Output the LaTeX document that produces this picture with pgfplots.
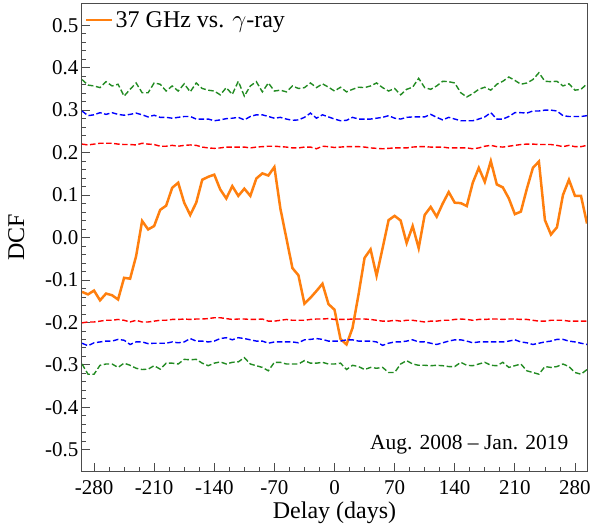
\documentclass[border=0pt]{standalone}
\usepackage{fontspec}
\setmainfont{Liberation Serif}
\usepackage{pgfplots}
\usepackage{pgfplotstable}
\pgfplotsset{compat=1.18}
\definecolor{dcforange}{RGB}{255,127,14}
\definecolor{siggreen}{RGB}{34,139,34}
\definecolor{sigblue}{RGB}{0,0,255}
\definecolor{sigred}{RGB}{255,0,0}
\pgfplotstableread{
d dcf gu bu ru rl bl gl
-294 -0.128 0.372 0.298 0.220 -0.201 -0.249 -0.298
-287 -0.134 0.359 0.287 0.218 -0.199 -0.255 -0.322
-280 -0.125 0.357 0.289 0.220 -0.199 -0.248 -0.322
-273 -0.148 0.353 0.294 0.222 -0.197 -0.246 -0.301
-266 -0.132 0.367 0.290 0.222 -0.195 -0.244 -0.298
-259 -0.136 0.357 0.294 0.222 -0.195 -0.244 -0.298
-252 -0.146 0.361 0.290 0.220 -0.193 -0.240 -0.306
-245 -0.095 0.333 0.288 0.219 -0.195 -0.242 -0.296
-238 -0.097 0.349 0.290 0.219 -0.199 -0.252 -0.301
-231 -0.044 0.364 0.293 0.218 -0.195 -0.246 -0.308
-224 0.039 0.341 0.289 0.222 -0.199 -0.246 -0.311
-217 0.019 0.341 0.284 0.220 -0.199 -0.250 -0.310
-210 0.027 0.364 0.288 0.219 -0.197 -0.249 -0.302
-203 0.065 0.361 0.283 0.215 -0.195 -0.249 -0.310
-196 0.075 0.345 0.283 0.215 -0.195 -0.249 -0.296
-189 0.117 0.357 0.281 0.217 -0.193 -0.246 -0.296
-182 0.129 0.345 0.283 0.215 -0.193 -0.248 -0.298
-175 0.082 0.362 0.285 0.217 -0.192 -0.246 -0.287
-168 0.053 0.343 0.285 0.218 -0.193 -0.238 -0.288
-161 0.082 0.364 0.279 0.217 -0.192 -0.244 -0.287
-154 0.136 0.351 0.279 0.213 -0.192 -0.244 -0.296
-147 0.143 0.347 0.279 0.211 -0.191 -0.246 -0.302
-140 0.148 0.345 0.275 0.210 -0.189 -0.244 -0.296
-133 0.113 0.336 0.277 0.211 -0.189 -0.238 -0.293
-126 0.092 0.353 0.280 0.213 -0.191 -0.236 -0.298
-119 0.121 0.337 0.281 0.213 -0.193 -0.241 -0.294
-112 0.098 0.368 0.283 0.213 -0.192 -0.236 -0.293
-105 0.115 0.333 0.277 0.213 -0.192 -0.238 -0.283
-98 0.098 0.357 0.285 0.211 -0.193 -0.241 -0.298
-91 0.139 0.367 0.289 0.213 -0.193 -0.244 -0.302
-84 0.151 0.343 0.289 0.214 -0.192 -0.244 -0.306
-77 0.146 0.364 0.285 0.215 -0.197 -0.249 -0.314
-70 0.166 0.345 0.281 0.215 -0.197 -0.246 -0.294
-63 0.068 0.347 0.283 0.214 -0.195 -0.246 -0.294
-56 -0.002 0.343 0.279 0.213 -0.193 -0.246 -0.298
-49 -0.072 0.357 0.276 0.211 -0.195 -0.246 -0.298
-42 -0.089 0.351 0.277 0.211 -0.195 -0.248 -0.298
-35 -0.156 0.353 0.283 0.213 -0.195 -0.241 -0.290
-28 -0.142 0.364 0.293 0.213 -0.193 -0.240 -0.296
-21 -0.126 0.353 0.281 0.209 -0.192 -0.238 -0.296
-14 -0.109 0.362 0.289 0.215 -0.192 -0.240 -0.294
-7 -0.157 0.354 0.284 0.214 -0.191 -0.244 -0.298
0 -0.170 0.345 0.279 0.212 -0.193 -0.244 -0.298
7 -0.239 0.354 0.275 0.213 -0.193 -0.244 -0.296
14 -0.252 0.343 0.276 0.214 -0.193 -0.241 -0.311
21 -0.213 0.349 0.283 0.214 -0.192 -0.241 -0.301
28 -0.134 0.354 0.279 0.214 -0.192 -0.244 -0.304
35 -0.048 0.353 0.279 0.213 -0.192 -0.244 -0.311
42 -0.028 0.357 0.279 0.211 -0.193 -0.244 -0.306
49 -0.090 0.364 0.281 0.210 -0.195 -0.246 -0.308
56 -0.025 0.353 0.283 0.209 -0.197 -0.254 -0.306
63 0.041 0.345 0.287 0.210 -0.197 -0.249 -0.318
70 0.051 0.351 0.281 0.211 -0.195 -0.246 -0.318
77 0.040 0.336 0.279 0.211 -0.197 -0.246 -0.298
84 -0.013 0.349 0.283 0.211 -0.195 -0.244 -0.290
91 0.027 0.354 0.284 0.213 -0.195 -0.241 -0.298
98 -0.025 0.375 0.284 0.214 -0.197 -0.246 -0.301
105 0.053 0.353 0.284 0.214 -0.199 -0.246 -0.301
112 0.072 0.349 0.290 0.213 -0.197 -0.249 -0.302
119 0.049 0.357 0.283 0.213 -0.197 -0.252 -0.301
126 0.080 0.368 0.277 0.213 -0.195 -0.248 -0.302
133 0.107 0.367 0.283 0.211 -0.195 -0.244 -0.304
140 0.082 0.364 0.279 0.211 -0.193 -0.241 -0.304
147 0.081 0.341 0.275 0.211 -0.192 -0.241 -0.294
154 0.074 0.331 0.275 0.211 -0.193 -0.244 -0.301
161 0.129 0.339 0.275 0.209 -0.195 -0.248 -0.302
168 0.164 0.349 0.279 0.211 -0.193 -0.246 -0.298
175 0.131 0.354 0.284 0.215 -0.193 -0.246 -0.294
182 0.180 0.347 0.294 0.217 -0.192 -0.246 -0.301
189 0.125 0.361 0.279 0.214 -0.192 -0.246 -0.302
196 0.118 0.368 0.279 0.213 -0.193 -0.246 -0.294
203 0.092 0.378 0.285 0.215 -0.192 -0.244 -0.306
210 0.055 0.370 0.294 0.217 -0.192 -0.241 -0.302
217 0.061 0.361 0.294 0.219 -0.193 -0.246 -0.298
224 0.115 0.364 0.293 0.220 -0.193 -0.248 -0.314
231 0.164 0.372 0.298 0.220 -0.195 -0.252 -0.318
238 0.179 0.388 0.298 0.219 -0.197 -0.249 -0.322
245 0.041 0.368 0.300 0.219 -0.197 -0.246 -0.304
252 0.007 0.367 0.300 0.219 -0.195 -0.244 -0.306
259 0.024 0.368 0.298 0.217 -0.195 -0.240 -0.304
266 0.100 0.357 0.287 0.214 -0.195 -0.240 -0.298
273 0.136 0.362 0.285 0.217 -0.197 -0.244 -0.304
280 0.098 0.347 0.285 0.214 -0.197 -0.246 -0.318
287 0.098 0.349 0.285 0.214 -0.197 -0.249 -0.322
294 0.033 0.362 0.287 0.217 -0.197 -0.252 -0.311
}\datatable
\begin{document}
\begin{tikzpicture}
\begin{axis}[
  scale only axis,
  width=505pt, height=467pt,
  xmin=-294, xmax=294, ymin=-0.55, ymax=0.55,
  xtick={-280,-210,-140,-70,0,70,140,210,280},
  xticklabels={-280,-210,-140,-70,0,70,140,210,280},
  ytick={-0.5,-0.4,-0.3,-0.2,-0.1,0,0.1,0.2,0.3,0.4,0.5},
  yticklabels={-0.5,-0.4,-0.3,-0.2,-0.1,0.0,0.1,0.2,0.3,0.4,0.5},
  minor x tick num=3, minor y tick num=4,
  tick align=inside, tick pos=left,
  major tick length=8pt, minor tick length=4.5pt,
  every tick/.style={black!70, line width=0.8pt},
  axis line style={black!70, line width=1pt},
  tick label style={font=\fontsize{21}{21}\selectfont},
  xticklabel style={yshift=-6pt},
  label style={font=\fontsize{24}{24}\selectfont},
  xlabel={Delay (days)}, ylabel={DCF},
  xlabel style={yshift=0pt},
  ylabel style={yshift=14pt},
  legend style={at={(0,1)}, anchor=north west, draw=none, fill=none,
    font=\fontsize{24}{24}\selectfont, inner xsep=3pt, inner ysep=5pt},
  legend cell align=left,
  legend image code/.code={\draw[#1] (0pt,0pt) -- (26pt,0pt);},
]
\addplot[dcforange, line width=2.5pt] table[x=d, y=dcf] {\datatable};
\addlegendentry{37 GHz vs. $\gamma$-ray}
\addplot[siggreen, line width=1.4pt, dash pattern=on 5.5pt off 2.6pt, forget plot] table[x=d, y=gu] {\datatable};
\addplot[sigblue, line width=1.4pt, dash pattern=on 5.5pt off 2.6pt, forget plot] table[x=d, y=bu] {\datatable};
\addplot[sigred, line width=1.4pt, dash pattern=on 5.5pt off 2.6pt, forget plot] table[x=d, y=ru] {\datatable};
\addplot[sigred, line width=1.4pt, dash pattern=on 5.5pt off 2.6pt, forget plot] table[x=d, y=rl] {\datatable};
\addplot[sigblue, line width=1.4pt, dash pattern=on 5.5pt off 2.6pt, forget plot] table[x=d, y=bl] {\datatable};
\addplot[siggreen, line width=1.4pt, dash pattern=on 5.5pt off 2.6pt, forget plot] table[x=d, y=gl] {\datatable};
\node[anchor=base east, font=\fontsize{21.5}{21.5}\selectfont] at (rel axis cs:0.97,0.047) {Aug. 2008 – Jan. 2019};
\end{axis}
\path ([xshift=-82pt,yshift=-54pt]current axis.south west) ([xshift=18pt,yshift=4pt]current axis.north east);
\end{tikzpicture}
\end{document}
